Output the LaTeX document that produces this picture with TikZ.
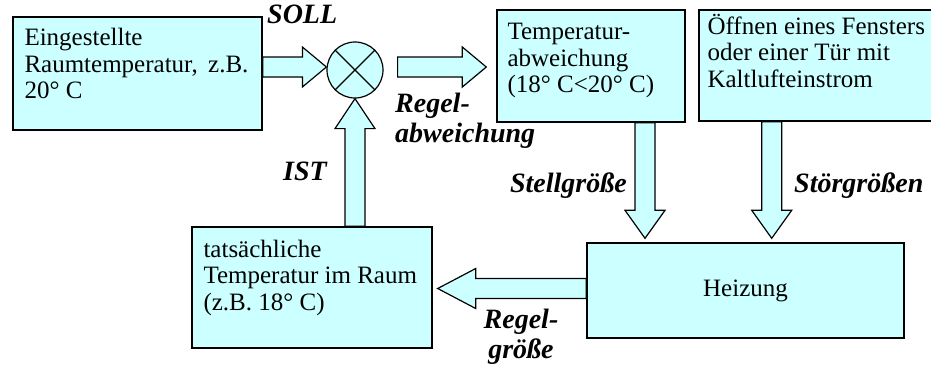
\documentclass[tikz,border=0pt]{standalone}
\usepackage{fontspec}
\setmainfont{LiberationSerif}[Extension=.ttf,UprightFont=*-Regular,BoldFont=*-Bold,
  ItalicFont=*-Italic,BoldItalicFont=*-BoldItalic]
\usetikzlibrary{calc,positioning}
\definecolor{boxfill}{HTML}{CCFFFF}

% hollow block arrow from #2 to the tip #3, #1 = head length
\newcommand{\blockarrow}[3][24]{%
  \draw[barrow] let \p1=#2, \p2=#3,
      \n1={atan2(\y2-\y1,\x2-\x1)}, \n2={veclen(\x2-\x1,\y2-\y1)} in
    {[shift={(\p1)},rotate=\n1]
     (0pt,10pt) -- ({(\n2-#1)*1pt},10pt) -- ({(\n2-#1)*1pt},20pt) -- ({\n2*1pt},0pt)
     -- ({(\n2-#1)*1pt},-20pt) -- ({(\n2-#1)*1pt},-10pt) -- (0pt,-10pt) -- cycle};
}

\begin{document}
\begin{tikzpicture}[x=1pt,y=-1pt,
    block/.style={draw,line width=1.4pt,fill=boxfill,inner sep=0pt},
    txt/.style={font=\fontsize{25}{26.5}\selectfont,align=left,inner sep=0pt,anchor=north west},
    lbl/.style={font=\fontsize{28}{30}\selectfont\bfseries\itshape,inner sep=0pt},
    barrow/.style={draw=black,fill=boxfill,line width=1.2pt,line join=miter},
    sumc/.style={circle,draw,line width=1.2pt,fill=boxfill,minimum size=56pt,inner sep=0pt}]
  \useasboundingbox (0,0) rectangle (931,365);

  % blocks
  \node[block,minimum width=249pt,minimum height=113pt] (soll) at (137.5,73.5) {};
  \node[sumc] (sum) at (355,70) {};
  \node[block,minimum width=188pt,minimum height=112pt] (dev) at (591,66) {};
  \node[block,minimum width=246pt,minimum height=111pt] (dist) at (822,65.5) {};
  \node[block,minimum width=317pt,minimum height=95pt,font=\fontsize{25}{28}\selectfont] (heat) at (745.5,290.5) {Heizung};
  \node[block,minimum width=240pt,minimum height=121pt] (act) at (312,287.5) {};
  \draw[line width=1.2pt] (sum.north west) -- (sum.south east) (sum.north east) -- (sum.south west);

  % texts
  \node[txt] (tsoll) at ([shift={(12pt,-10.5pt)}]soll.north west) {\strut Eingestellte\\Raumtemperatur,\ \,z.B.\\20° C};
  \node[txt] (tdev) at ([shift={(11pt,-11.5pt)}]dev.north west) {\strut Temperatur-\\abweichung\\(18° C<20° C)};
  \node[txt] (tdist) at ([shift={(9pt,-4.5pt)}]dist.north west) {\strut Öffnen eines Fensters\\oder einer Tür mit\\Kaltlufteinstrom};
  \node[txt] (tact) at ([shift={(12pt,-12pt)}]act.north west) {\strut tatsächliche\\Temperatur im Raum\\(z.B. 18° C)};

  % arrows
  \blockarrow{([yshift=6.5pt]soll.east)}{([yshift=3pt]sum.west)}
  \blockarrow{([shift={(14pt,3pt)}]sum.east)}{([shift={(-10pt,-1pt)}]dev.west)}
  \blockarrow[30]{(sum.south |- act.north)}{(sum.south)}
  \blockarrow[28]{([xshift=54pt]dev.south)}{([xshift=54pt,yshift=4pt]dev.south |- heat.north)}
  \blockarrow[28]{([xshift=-133pt]heat.north east |- dist.south)}{([xshift=-133pt,yshift=4pt]heat.north east)}
  \blockarrow[38]{([yshift=2pt]heat.west)}{([shift={(5pt,2pt)}]act.east |- heat.west)}

  % labels
  \node[lbl,anchor=base west] (lsoll) at (267,23.5) {SOLL};
  \node[lbl,anchor=north west,align=left] (ldev) at (395,91) {\strut Regel-\\abweichung};
  \node[lbl,anchor=base east] (list) at (327,180) {IST};
  \node[lbl,anchor=base east] (lstell) at (627,192) {Stellgröße};
  \node[lbl,anchor=base west] (lstoer) at (794,192) {Störgrößen};
  \node[lbl,anchor=north,align=center] (lregel) at (521,307) {\strut Regel-\\größe};
\end{tikzpicture}
\end{document}
